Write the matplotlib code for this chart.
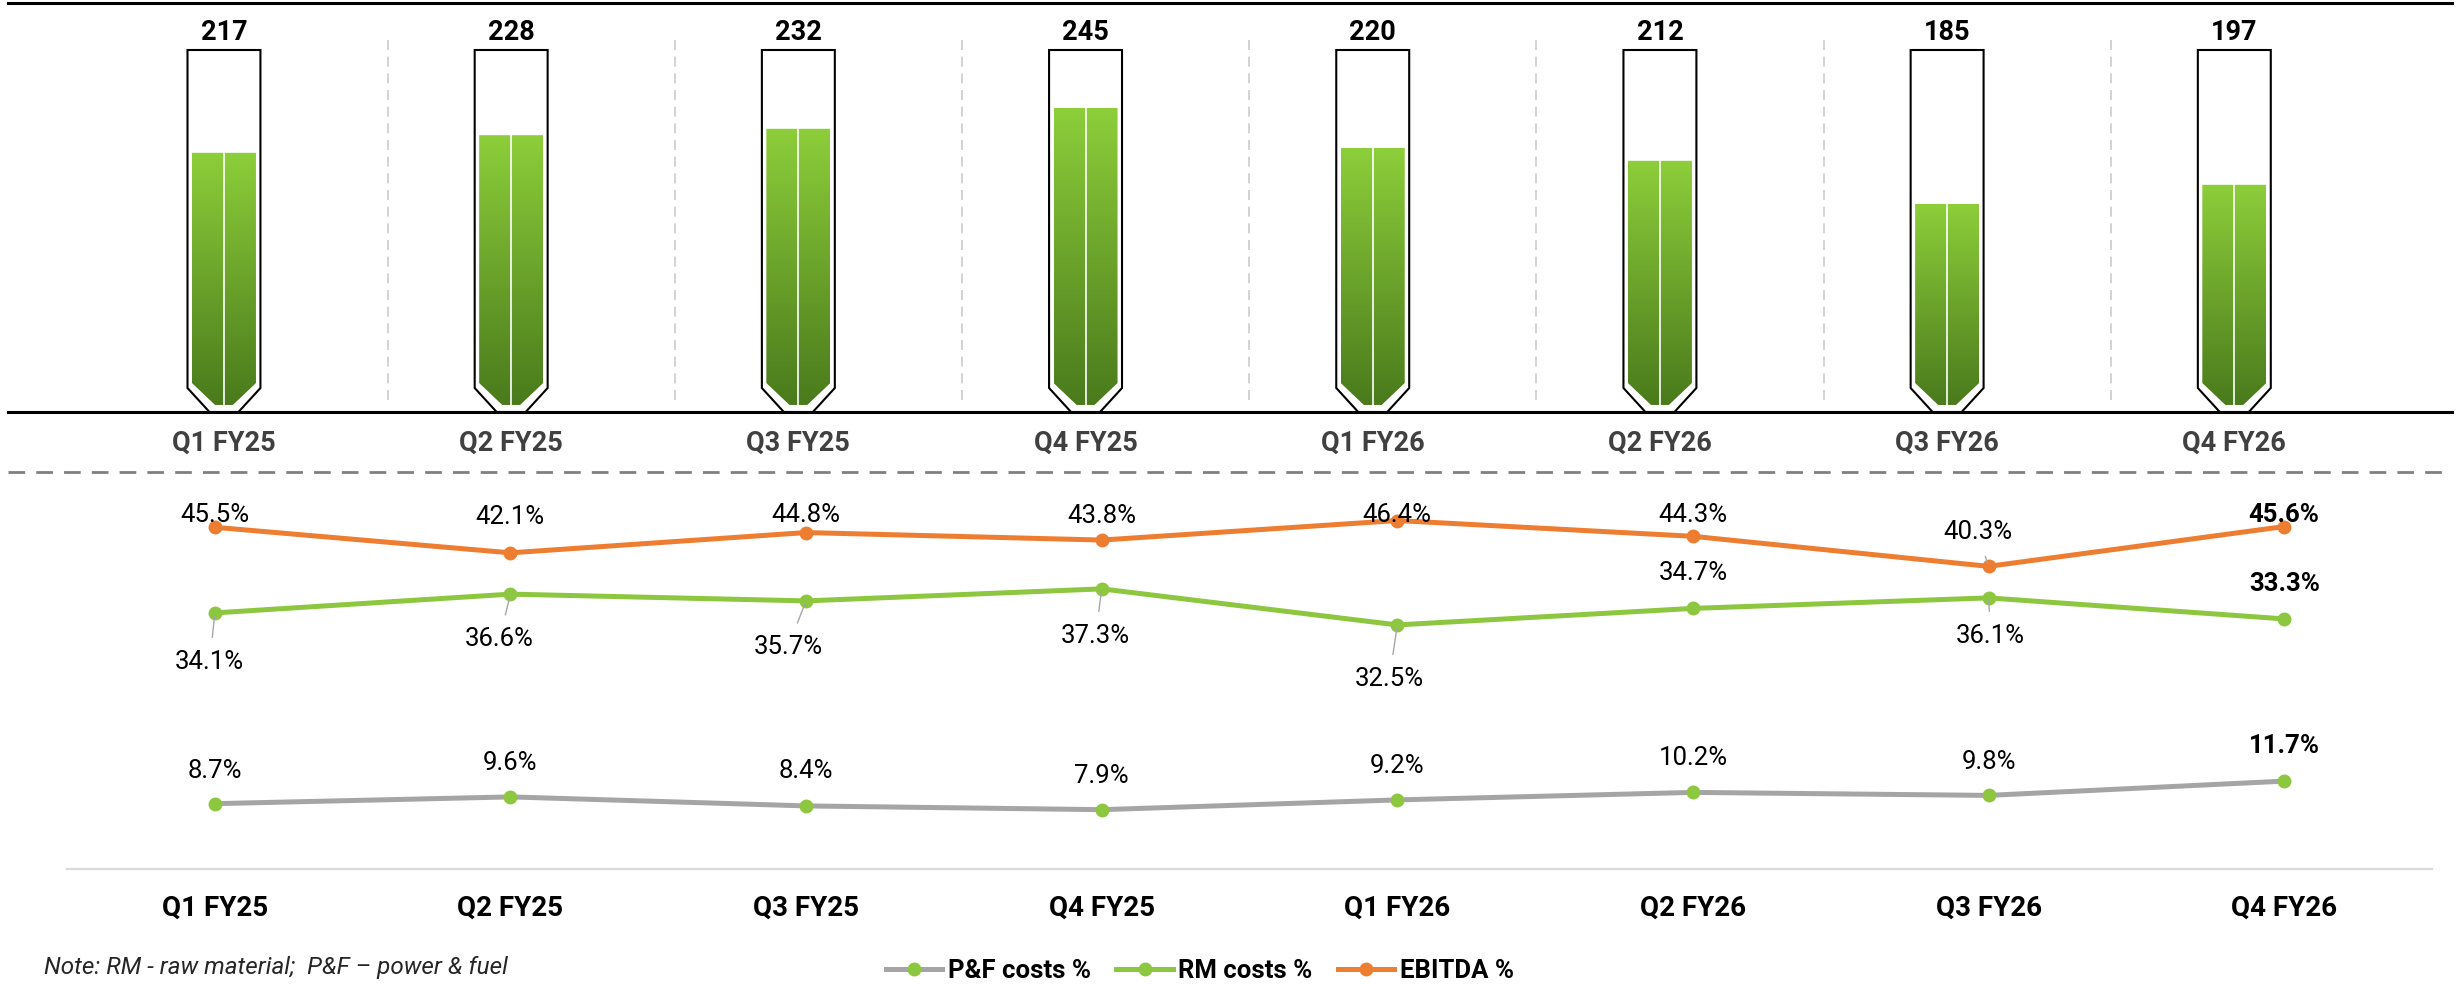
import matplotlib.pyplot as plt
import numpy as np
from matplotlib.colors import LinearSegmentedColormap
from matplotlib.lines import Line2D
from matplotlib.patches import Polygon

plt.rcParams['font.family'] = ['Roboto', 'DejaVu Sans']

# data
quarters = ['Q1 FY25', 'Q2 FY25', 'Q3 FY25', 'Q4 FY25', 'Q1 FY26', 'Q2 FY26', 'Q3 FY26', 'Q4 FY26']
volume = [217, 228, 232, 245, 220, 212, 185, 197]
ebitda = [45.5, 42.1, 44.8, 43.8, 46.4, 44.3, 40.3, 45.6]
rm_cost = [34.1, 36.6, 35.7, 37.3, 32.5, 34.7, 36.1, 33.3]
pf_cost = [8.7, 9.6, 8.4, 7.9, 9.2, 10.2, 9.8, 11.7]

# label placement (pixels, +up) and which labels get a leader line
ebitda_dy = [12, 36, 18, 24, 6, 21, 34, 12]
ebitda_dx = [0, 0, 0, 0, 0, 0, -11, 0]
ebitda_lead = [6]
rm_dy = [-49, -45, -46, -47, -54, 35, -38, 35]
rm_dx = [-5, -11, -18, -6, -8, 0, 2, 0]
rm_lead = [0, 1, 2, 3, 4, 6]
pf_dy = [33, 34, 35, 34, 34, 34, 33, 35]

ORANGE = '#ED7D31'
GREEN = '#8DC63F'
GREY = '#A5A5A5'
PX = 72 / 100  # pixels -> points

fig = plt.figure(figsize=(24.56, 9.84), dpi=100)

# ---------------- top: volume tubes ----------------
ax1 = fig.add_axes([8 / 2456, (984 - 412) / 984, 2444 / 2456, 409 / 984])
y0 = 55
tube_top = 281.25
cmap = LinearSegmentedColormap.from_list('g', ['#4a7a1c', '#8dce3a'])
grad = np.linspace(0, 1, 256).reshape(-1, 1)

for i, v in enumerate(volume):
    # glass tube outline
    tube = Polygon([(i - 0.127, tube_top), (i - 0.127, 70), (i - 0.0505, y0),
                    (i + 0.0505, y0), (i + 0.127, 70), (i + 0.127, tube_top)],
                   closed=True, facecolor='white', edgecolor='black', lw=1.5, zorder=2)
    ax1.add_patch(tube)
    # green fill
    fill = Polygon([(i - 0.1114, v), (i - 0.1114, 73.1), (i - 0.031, 59.4),
                    (i + 0.031, 59.4), (i + 0.1114, 73.1), (i + 0.1114, v)],
                   closed=True, facecolor='none', edgecolor='none')
    ax1.add_patch(fill)
    im = ax1.imshow(grad, extent=[i - 0.1114, i + 0.1114, 59.4, v], origin='lower',
                    aspect='auto', cmap=cmap, zorder=3)
    im.set_clip_path(fill)
    ax1.plot([i, i], [59.4, v], color='white', lw=1.2, zorder=4)
    ax1.annotate(str(v), (i, tube_top), xytext=(0, 3), textcoords='offset points',
                 ha='center', va='bottom', fontsize=19.5, fontweight='bold', color='black')

for s in np.arange(len(quarters) - 1) + 0.57:
    ax1.plot([s, s], [y0 + 12 * 0.625, y0 + 374 * 0.625], color='#cccccc', lw=1.2,
             ls=(0, (6, 4)), zorder=1)

ax1.set_xlim(-0.752, 7.758)
ax1.set_ylim(y0, y0 + 409 * 0.625)
ax1.set_xticks(range(len(quarters)))
ax1.set_xticklabels(quarters, fontsize=19.5, fontweight='bold', color='#404040')
ax1.set_yticks([])
ax1.tick_params(axis='x', length=0, pad=13)
for side in ['left', 'right']:
    ax1.spines[side].set_visible(False)
for side in ['top', 'bottom']:
    ax1.spines[side].set_linewidth(2.2)
    ax1.spines[side].set_color('black')

# dashed divider
fig.add_artist(Line2D([8 / 2456, 2450 / 2456], [(984 - 472) / 984] * 2, color='#808080',
                      lw=2, ls=(0, (6, 4))))

# ---------------- bottom: cost / margin lines ----------------
ax2 = fig.add_axes([67 / 2456, (984 - 869) / 984, 2365 / 2456, 375.5 / 984])
x = np.arange(len(quarters))
ax2.plot(x, pf_cost, color=GREY, lw=3.6, marker='o', ms=9, mfc=GREEN, mec=GREEN,
         label='P&F costs %', zorder=3)
ax2.plot(x, rm_cost, color=GREEN, lw=3.6, marker='o', ms=9, mfc=GREEN, mec=GREEN,
         label='RM costs %', zorder=3)
ax2.plot(x, ebitda, color=ORANGE, lw=3.6, marker='o', ms=9, mfc=ORANGE, mec=ORANGE,
         label='EBITDA %', zorder=3)
ax2.set_xlim(-0.5, 7.5)
ax2.set_ylim(0, 50)


def put_labels(vals, dys, dxs, leads):
    last = len(vals) - 1
    for i, v in enumerate(vals):
        kw = dict(ha='center', va='center', fontsize=18.5, color='black',
                  fontweight='bold' if i == last else 'normal', zorder=5)
        if i in leads:
            kw['arrowprops'] = dict(arrowstyle='-', color='#a6a6a6', lw=1,
                                    shrinkA=7, shrinkB=2)
        ax2.annotate(f'{v:.1f}%', (i, v), xytext=(dxs[i] * PX, dys[i] * PX),
                     textcoords='offset points', **kw)


put_labels(ebitda, ebitda_dy, ebitda_dx, ebitda_lead)
put_labels(rm_cost, rm_dy, rm_dx, rm_lead)
put_labels(pf_cost, pf_dy, [0] * len(pf_cost), [])

ax2.set_xticks(x)
ax2.set_xticklabels(quarters, fontsize=20, fontweight='bold', color='black')
ax2.set_yticks([])
ax2.tick_params(axis='x', length=0, pad=18.5)
for side in ['left', 'right', 'top']:
    ax2.spines[side].set_visible(False)
ax2.spines['bottom'].set_color('#d9d9d9')
ax2.spines['bottom'].set_linewidth(1.6)

fig.legend(loc='center', bbox_to_anchor=(0.4885, 0.013), ncol=3, frameon=False,
           prop={'size': 18.5, 'weight': 'bold'}, handlelength=2.2, handletextpad=0.2,
           columnspacing=1.0)

fig.text(44 / 2456, 0.017, 'Note: RM - raw material;  P&F \u2013 power & fuel',
         fontsize=17.5, style='italic', color='#262626', va='center', ha='left')

fig.savefig('out.png', dpi=100)
